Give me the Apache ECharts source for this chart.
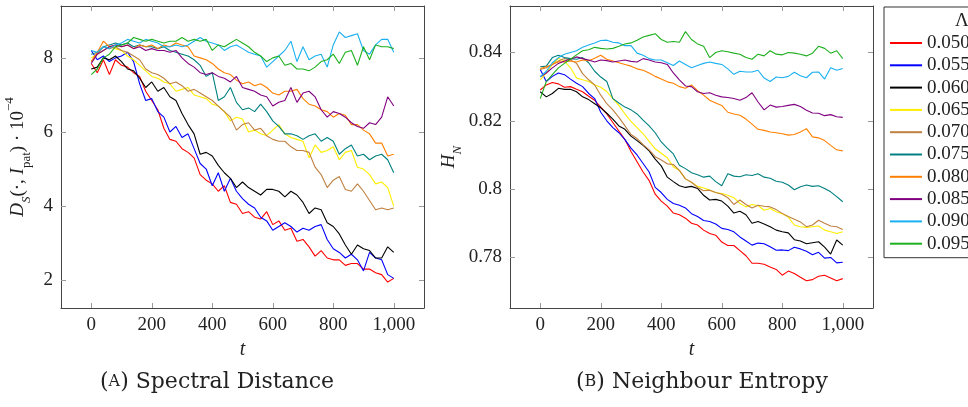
<!DOCTYPE html>
<html><head><meta charset="utf-8">
<script src="https://cdn.jsdelivr.net/npm/echarts@6/dist/echarts.min.js"></script>
<style>html,body{margin:0;padding:0;background:#fff}#c{width:968px;height:407px}</style>
</head><body><div id="c"></div>
<script>
// ---------- data ----------
const T = [0,20,40,60,80,100,120,140,160,180,200,220,240,260,280,300,320,340,360,380,400,420,440,460,480,500,520,540,560,580,600,620,640,660,680,700,720,740,760,780,800,820,840,860,880,900,920,940,960,980,1000];
const lambdas = ['0.050','0.055','0.060','0.065','0.070','0.075','0.080','0.085','0.090','0.095'];
const xTicks = [0,200,400,600,800,1000];
const yTicksA = [2,4,6,8];
const yTicksB = [0.78,0.80,0.82,0.84];

// (A) Spectral distance D_S (x 10^-4)
const spec050 = [7.85,7.6,7.95,7.55,7.95,7.8,7.75,7.6,7.5,7.1,6.85,6.6,6.1,5.8,5.75,5.55,5.45,5.3,4.85,4.7,4.6,4.4,4.55,4.1,4.05,3.8,3.85,3.7,3.65,3.85,3.5,3.6,3.35,3.4,3.05,3.1,2.9,2.65,2.8,2.6,2.55,2.55,2.4,2.45,2.45,2.3,2.3,2.2,2.15,1.95,2.05];
const spec055 = [8.2,7.95,8.05,7.9,8.0,8.05,8.15,7.9,7.3,6.85,6.9,6.55,6.4,6.0,6.15,5.85,5.95,5.55,5.15,5.0,4.55,4.9,4.4,4.75,4.4,4.2,4.05,3.95,3.7,3.6,3.35,3.45,3.55,3.45,3.3,3.4,3.35,3.45,3.5,3.1,2.85,2.75,2.6,2.7,2.55,2.25,2.75,2.6,2.55,2.15,2.05];
const spec060 = [7.7,7.75,8.0,7.95,8.05,7.9,7.7,7.65,7.45,7.2,7.35,7.1,7.2,6.95,6.85,6.5,6.2,5.95,5.4,5.45,5.35,5.1,4.9,4.75,4.5,4.65,4.5,4.4,4.3,4.45,4.45,4.4,4.25,4.4,4.3,4.1,3.8,3.95,3.9,3.55,3.45,3.25,2.95,2.7,2.95,2.85,2.8,2.6,2.6,2.9,2.75];
const spec065 = [8.0,8.1,8.2,8.3,8.25,8.2,8.05,7.95,7.8,7.65,7.5,7.45,7.35,7.3,7.1,7.15,7.2,7.0,6.95,6.9,6.75,6.7,6.55,6.3,6.4,6.35,6.0,6.05,5.95,5.9,6.05,6.2,5.95,5.85,5.8,5.75,5.3,5.65,5.45,5.5,5.6,5.25,5.45,5.5,5.05,5.0,4.85,4.6,4.65,4.5,4.0];
const spec070 = [7.9,8.1,8.3,8.25,8.3,8.2,8.15,8.05,7.95,7.7,7.6,7.55,7.45,7.3,7.35,7.25,7.1,7.15,7.05,6.95,6.85,6.7,6.55,6.4,6.05,6.2,6.25,6.05,6.1,5.9,5.8,5.75,5.75,5.6,5.5,5.5,5.45,5.05,4.85,4.5,4.7,4.8,4.45,4.4,4.6,4.4,4.15,3.9,3.95,3.9,3.95];
const spec075 = [8.1,8.15,8.3,8.35,8.4,8.35,8.4,8.3,8.35,8.3,8.3,8.25,8.3,8.2,8.15,8.1,8.05,7.95,7.8,7.5,7.6,6.85,6.95,7.2,6.8,6.6,6.65,6.55,6.75,6.55,6.3,6.15,5.95,5.95,5.9,5.8,5.9,5.95,5.75,5.85,5.75,5.4,5.55,5.65,5.35,5.4,5.25,5.35,5.4,5.25,4.9];
const spec080 = [7.9,8.15,8.45,8.3,8.35,8.3,8.35,8.25,8.35,8.3,8.35,8.25,8.35,8.3,8.4,8.35,8.3,8.05,8.0,7.95,7.85,7.7,7.6,7.55,7.4,7.3,7.35,7.25,7.3,7.2,7.05,7.0,7.1,7.1,7.15,6.9,6.75,6.7,6.6,6.55,6.4,6.5,6.45,6.2,6.2,6.05,5.95,5.7,5.7,5.35,5.4];
const spec085 = [7.85,8.1,8.2,8.3,8.35,8.3,8.35,8.25,8.3,8.2,8.25,8.2,8.2,8.15,8.2,8.0,7.85,7.75,7.6,7.55,7.6,7.5,7.45,7.35,7.5,7.2,7.15,7.1,7.0,6.95,6.7,6.8,6.85,7.2,6.8,7.05,7.1,6.95,6.6,6.4,6.55,6.5,6.4,6.25,6.15,6.1,6.25,6.2,6.4,6.95,6.7];
const spec090 = [8.2,8.15,8.3,8.25,8.35,8.4,8.5,8.45,8.4,8.5,8.45,8.4,8.3,8.3,8.35,8.3,8.35,8.45,8.55,8.45,8.4,8.35,8.2,8.3,8.35,8.25,8.15,8.1,8.05,7.75,7.9,8.05,8.2,8.45,7.9,8.3,7.95,8.05,8.1,7.75,8.35,8.7,8.55,8.6,8.65,8.2,8.1,8.35,8.5,8.5,8.15];
const spec095 = [7.55,7.7,8.0,8.1,8.3,8.35,8.4,8.55,8.5,8.45,8.5,8.45,8.4,8.45,8.45,8.55,8.45,8.5,8.45,8.5,8.2,8.35,8.3,8.4,8.5,8.4,8.3,8.15,8.05,7.9,8.0,8.05,7.8,7.85,7.7,7.7,7.65,7.75,7.9,7.95,8.1,7.85,8.15,8.2,7.8,8.3,7.95,8.35,8.3,8.3,8.25];

// (B) Neighbour entropy H_N
const ent050 = [0.829,0.8305,0.8312,0.8308,0.8298,0.830,0.8292,0.8285,0.8272,0.826,0.824,0.822,0.8195,0.817,0.8145,0.811,0.808,0.805,0.8025,0.7985,0.7965,0.795,0.793,0.7925,0.7915,0.790,0.7895,0.788,0.787,0.7865,0.7845,0.7835,0.7835,0.782,0.7805,0.7783,0.7783,0.778,0.7772,0.7765,0.7748,0.776,0.7753,0.7742,0.7732,0.7735,0.7745,0.7748,0.774,0.7732,0.7738];
const ent055 = [0.835,0.8315,0.833,0.834,0.8335,0.8322,0.831,0.830,0.828,0.8265,0.8225,0.820,0.818,0.8165,0.8145,0.812,0.810,0.8075,0.805,0.8005,0.799,0.797,0.7958,0.7953,0.7945,0.7928,0.792,0.7908,0.7905,0.7898,0.7885,0.7882,0.7875,0.786,0.7848,0.7836,0.7842,0.784,0.7831,0.7821,0.7822,0.782,0.783,0.7825,0.7818,0.7808,0.7815,0.7798,0.780,0.7784,0.7786];
const ent060 = [0.8285,0.827,0.828,0.8295,0.8292,0.8292,0.8285,0.827,0.8262,0.825,0.8238,0.8222,0.8205,0.8185,0.8175,0.8155,0.8142,0.8128,0.8112,0.8088,0.8068,0.8035,0.8022,0.801,0.8005,0.8008,0.8002,0.7982,0.7968,0.797,0.7965,0.795,0.793,0.7935,0.7925,0.790,0.7905,0.7898,0.789,0.788,0.7875,0.7872,0.7852,0.7848,0.784,0.7843,0.7846,0.783,0.781,0.7851,0.7836];
const ent065 = [0.832,0.834,0.8365,0.8383,0.8375,0.8355,0.8325,0.832,0.8315,0.8305,0.8298,0.8285,0.8265,0.8245,0.822,0.8198,0.818,0.8162,0.814,0.8118,0.8105,0.8092,0.8065,0.8055,0.803,0.802,0.8008,0.8003,0.7997,0.799,0.7987,0.7982,0.7975,0.7958,0.7948,0.7955,0.7952,0.7938,0.7943,0.7934,0.7928,0.7918,0.7895,0.789,0.7888,0.789,0.7892,0.788,0.7875,0.787,0.7875];
const ent070 = [0.835,0.8355,0.8365,0.8375,0.8382,0.8378,0.8368,0.8338,0.832,0.8305,0.8275,0.825,0.8232,0.821,0.8185,0.816,0.8148,0.813,0.8115,0.8095,0.8085,0.8074,0.8072,0.8055,0.803,0.802,0.8005,0.7995,0.7997,0.799,0.7985,0.7975,0.7955,0.7968,0.7955,0.7945,0.7953,0.795,0.7948,0.794,0.7929,0.792,0.7912,0.7904,0.789,0.7895,0.7909,0.790,0.7892,0.789,0.7882];
const ent075 = [0.8358,0.836,0.8385,0.8392,0.8385,0.8382,0.838,0.8385,0.837,0.8345,0.8328,0.8315,0.8265,0.8252,0.824,0.8232,0.822,0.8202,0.8185,0.8165,0.8138,0.812,0.8103,0.807,0.806,0.8048,0.8042,0.8035,0.8038,0.8022,0.801,0.8045,0.8038,0.8036,0.8042,0.804,0.8045,0.8035,0.8032,0.8023,0.802,0.8012,0.7998,0.8007,0.8012,0.8008,0.801,0.8002,0.7992,0.7978,0.7963];
const ent080 = [0.8353,0.8358,0.8365,0.8373,0.8372,0.8375,0.8372,0.8378,0.8376,0.8383,0.8392,0.838,0.8375,0.837,0.8365,0.836,0.8352,0.8348,0.834,0.833,0.8322,0.8314,0.831,0.830,0.8295,0.8305,0.8288,0.8275,0.826,0.8252,0.8245,0.8225,0.822,0.8216,0.8205,0.819,0.8175,0.8172,0.8167,0.8165,0.8162,0.8158,0.816,0.8167,0.8177,0.8153,0.815,0.8142,0.8128,0.8115,0.8112];
const ent085 = [0.8329,0.834,0.8355,0.8368,0.8375,0.838,0.8387,0.8382,0.8378,0.8372,0.8378,0.8376,0.8372,0.8375,0.8378,0.8374,0.8372,0.8382,0.8378,0.8372,0.837,0.8365,0.834,0.832,0.8302,0.830,0.8285,0.828,0.8282,0.8275,0.827,0.8268,0.8265,0.826,0.8268,0.8282,0.8255,0.8232,0.8246,0.824,0.8242,0.8245,0.8248,0.8242,0.8231,0.8223,0.8222,0.8215,0.8218,0.8212,0.821];
const ent090 = [0.8329,0.8345,0.837,0.8385,0.8395,0.840,0.8405,0.8415,0.8422,0.8428,0.8435,0.8436,0.843,0.8428,0.842,0.842,0.8398,0.8392,0.8382,0.8378,0.8378,0.837,0.8362,0.8375,0.8365,0.8355,0.8362,0.8368,0.8372,0.8368,0.8365,0.8352,0.8336,0.8345,0.8343,0.8343,0.8348,0.8325,0.8315,0.8328,0.8326,0.833,0.8342,0.8332,0.8326,0.8342,0.8343,0.8322,0.8355,0.8348,0.8353];
const ent095 = [0.8265,0.8315,0.8335,0.8355,0.8368,0.838,0.8393,0.8405,0.8408,0.8415,0.8412,0.841,0.8412,0.8418,0.8425,0.8428,0.8436,0.8445,0.845,0.8455,0.8438,0.843,0.8432,0.843,0.8461,0.8438,0.8425,0.8418,0.8385,0.840,0.8405,0.8402,0.8398,0.8395,0.8385,0.838,0.8395,0.839,0.8405,0.8395,0.8393,0.840,0.8398,0.8395,0.839,0.8398,0.8418,0.8412,0.8398,0.8405,0.8382];

const specSeries = [spec050,spec055,spec060,spec065,spec070,spec075,spec080,spec085,spec090,spec095];
const entSeries = [ent050,ent055,ent060,ent065,ent070,ent075,ent080,ent085,ent090,ent095];
const colors = ['#ff0000','#0000ff','#000000','#ffee00','#bf8040','#008080','#ff8000','#800080','#1ab0f0','#1fb01f'];

// ---------- chart ----------
const FONT = '"Liberation Serif", "DejaVu Serif", serif';
const CAPFONT = '"DejaVu Serif", serif';
const FRAME = '#444';
const TICK = '#999';
const chart = echarts.init(document.getElementById('c'), null, {renderer: 'canvas'});

function xAxis(grid, pos) {
  const bottom = pos === 'bottom';
  return {
    type: 'value', gridIndex: grid, position: pos, min: -100, max: 1100,
    axisLine: {show: true, onZero: false, lineStyle: {color: FRAME, width: 1}},
    axisTick: {show: true, inside: true, length: 5, customValues: xTicks, lineStyle: {color: TICK}},
    axisLabel: {show: bottom, customValues: xTicks, margin: 8, fontFamily: FONT, fontSize: 19, color: '#222',
      formatter: v => v >= 1000 ? (Math.floor(v/1000) + ',' + String(v % 1000).padStart(3,'0')) : String(v)},
    splitLine: {show: false},
    name: bottom ? 't' : '', nameLocation: 'middle', nameGap: 31,
    nameTextStyle: {fontFamily: FONT, fontStyle: 'italic', fontSize: 20, color: '#222'}
  };
}
function yAxis(grid, pos, min, max, ticks, fmt, name, gap) {
  const left = pos === 'left';
  return {
    type: 'value', gridIndex: grid, position: pos, min: min, max: max,
    axisLine: {show: true, onZero: false, lineStyle: {color: FRAME, width: 1}},
    axisTick: {show: true, inside: true, length: 5, customValues: ticks, lineStyle: {color: TICK}},
    axisLabel: {show: left, customValues: ticks, margin: 8, fontFamily: FONT, fontSize: 19, color: '#222', formatter: fmt},
    splitLine: {show: false},
    name: left ? name : '', nameLocation: 'middle', nameGap: gap,
    nameTextStyle: {fontFamily: FONT, fontSize: 19, color: '#222',
      rich: {
        i: {fontFamily: FONT, fontStyle: 'italic', fontSize: 19, color: '#222'},
        n: {fontFamily: FONT, fontSize: 19, color: '#222'},
        si: {fontFamily: FONT, fontStyle: 'italic', fontSize: 13, color: '#222', verticalAlign: 'bottom', lineHeight: 30},
        sub: {fontFamily: FONT, fontSize: 13, color: '#222', verticalAlign: 'bottom', lineHeight: 30},
        sup: {fontFamily: FONT, fontSize: 13, color: '#222', verticalAlign: 'top', lineHeight: 30}
      }}
  };
}

const series = [];
lambdas.forEach((name, k) => {
  series.push({name: name, type: 'line', xAxisIndex: 0, yAxisIndex: 0, symbol: 'none', animation: false,
    lineStyle: {width: 1.1, color: colors[k]}, itemStyle: {color: colors[k]},
    data: T.map((t, i) => [t, specSeries[k][i]])});
});
lambdas.forEach((name, k) => {
  series.push({name: name, type: 'line', xAxisIndex: 2, yAxisIndex: 2, symbol: 'none', animation: false,
    lineStyle: {width: 1.1, color: colors[k]}, itemStyle: {color: colors[k]},
    data: T.map((t, i) => [t, entSeries[k][i]])});
});

const option = {
  animation: false,
  backgroundColor: '#ffffff',
  grid: [
    {left: 61, top: 6, width: 363, height: 302},
    {left: 510, top: 6, width: 363, height: 302}
  ],
  xAxis: [xAxis(0, 'bottom'), xAxis(0, 'top'), xAxis(1, 'bottom'), xAxis(1, 'top')],
  yAxis: [
    yAxis(0, 'left', 1.25, 9.4, yTicksA, v => String(v),
      '{i|D}{si|S}{n|(·, }{i|I}{sub|pat}{n|) · 10}{sup|−4}', 28),
    yAxis(0, 'right', 1.25, 9.4, yTicksA, v => String(v), '', 0),
    yAxis(1, 'left', 0.7652, 0.8536, yTicksB, v => String(parseFloat(v.toFixed(2))),
      '{i|H}{si|N}', 46),
    yAxis(1, 'right', 0.7652, 0.8536, yTicksB, v => String(v), '', 0)
  ],
  legend: {
    data: lambdas, orient: 'vertical', left: 884, top: 7,
    padding: [26, 40, 4, 6], itemGap: 2.3, itemWidth: 32, itemHeight: 2, icon: 'rect',
    borderColor: '#333', borderWidth: 1, backgroundColor: '#fff',
    textStyle: {fontFamily: FONT, fontSize: 19, color: '#222', lineHeight: 20},
    selectedMode: false
  },
  graphic: [
    {type: 'text', left: 955, top: 12, z: 100, style: {text: 'Λ', fontFamily: FONT, fontSize: 19, fill: '#222'}},
    {type: 'text', left: 100, top: 371, style: {
      text: '{n|(}{sc|A}{n|) Spectral Distance}',
      rich: {n: {fontFamily: CAPFONT, fontSize: 22, fill: '#222'}, sc: {fontFamily: CAPFONT, fontSize: 16, fill: '#222'}}}},
    {type: 'text', left: 576, top: 371, style: {
      text: '{n|(}{sc|B}{n|) Neighbour Entropy}',
      rich: {n: {fontFamily: CAPFONT, fontSize: 22, fill: '#222'}, sc: {fontFamily: CAPFONT, fontSize: 16, fill: '#222'}}}}
  ],
  series: series
};
chart.setOption(option);
</script>
</body></html>
